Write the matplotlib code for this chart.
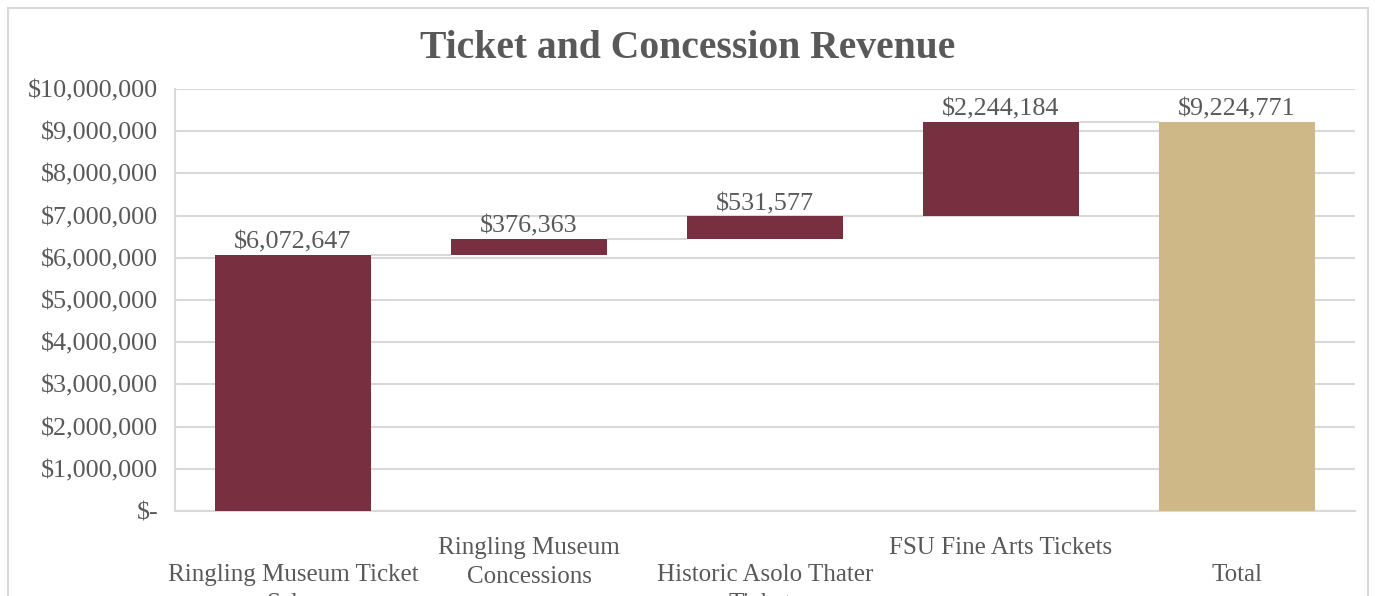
import matplotlib
matplotlib.use("Agg")
import matplotlib.pyplot as plt
from matplotlib.patches import Rectangle
from matplotlib.ticker import FuncFormatter
import numpy as np

categories = ["Ringling Museum Ticket\nSales", "Ringling Museum\nConcessions",
              "Historic Asolo Thater\nTickets", "FSU Fine Arts Tickets", "Total"]
increments = [6072647, 376363, 531577, 2244184]
total = 9224771
label_rows = [1, 0, 1, 0, 1]  # 0 = upper row, 1 = lower row (staggered)

GARNET = "#782F40"
GOLD = "#CEB888"
GRID = "#D9D9D9"
TXT = "#595959"
FONT = "Liberation Serif"

plt.rcParams['font.family'] = [FONT, 'DejaVu Serif']

fig = plt.figure(figsize=(13.75, 5.96), dpi=100)
ax = fig.add_axes([175/1375, 85/596, 1180/1375, 422/596])

x = np.arange(len(categories))
bottoms = list(np.cumsum([0] + increments[:-1])) + [0]
heights = increments + [total]
colors = [GARNET] * len(increments) + [GOLD]
width = 0.665

ax.bar(x, heights, bottom=bottoms, width=width, color=colors, zorder=3)

# connectors
tops = [b + h for b, h in zip(bottoms, heights)]
for i in range(len(categories) - 1):
    ax.hlines(tops[i], x[i] + width/2, x[i+1] - width/2, color=GRID, lw=1.5, zorder=2)

# data labels
for xi, b, h in zip(x, bottoms, heights):
    ax.annotate(f"${h:,.0f}", (xi, b + h), xytext=(0, 1), textcoords="offset points",
                ha="center", va="bottom", fontsize=18.8, color=TXT)

ax.set_xlim(-0.5, len(categories) - 0.5)
ax.set_ylim(0, 10000000)
ax.set_yticks(np.arange(0, 10000001, 1000000))
ax.yaxis.set_major_formatter(FuncFormatter(lambda v, p: "$-" if v == 0 else f"${v:,.0f}"))
ax.tick_params(axis="y", length=0, pad=12, labelsize=18.8, labelcolor=TXT)
ax.tick_params(axis="x", length=0)
ax.set_xticks([])
ax.grid(axis="y", color=GRID, lw=1.5, zorder=0)
ax.set_axisbelow(True)
for s in ["top", "right"]:
    ax.spines[s].set_visible(False)
ax.spines["left"].set_color(GRID)
ax.spines["left"].set_linewidth(1.5)
ax.spines["bottom"].set_color(GRID)
ax.spines["bottom"].set_linewidth(1.5)

# staggered category labels
trans = ax.get_xaxis_transform()
for xi, lab, row in zip(x, categories, label_rows):
    ypix = 26 if row == 0 else 53
    ax.annotate(lab, (xi, 0), xycoords=trans, xytext=(0, -ypix), textcoords="offset pixels",
                ha="center", va="top", fontsize=18, color=TXT, linespacing=1.4,
                annotation_clip=False)

fig.text(0.5, 1 - 48/596, "Ticket and Concession Revenue", ha="center", va="center",
         fontsize=28.5, fontweight="bold", color=TXT)

fig.patches.append(Rectangle((8/1375, -0.05), 1360/1375, 1.05 - 8/596, transform=fig.transFigure,
                             fill=False, edgecolor=GRID, lw=1.5))

fig.savefig("out.png", dpi=100)
